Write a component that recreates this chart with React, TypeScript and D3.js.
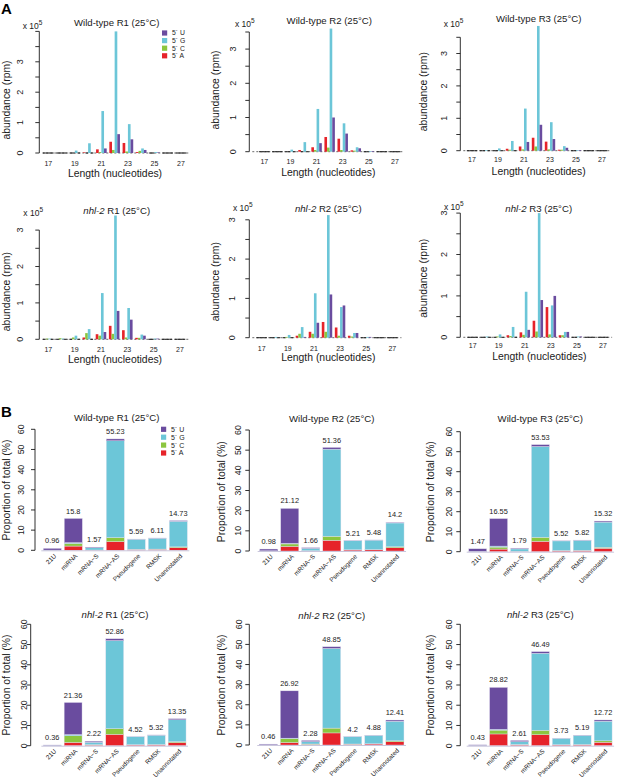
import React from "react";
import * as d3 from "d3";

// ---------- shared categories ----------
const lengths = [17, 18, 19, 20, 21, 22, 23, 24, 25, 26, 27];
const lengthTickLabels = [17, 19, 21, 23, 25, 27];
const nucleotides = ["A", "C", "G", "U"];
const legendLabels = ["5´ U", "5´ G", "5´ C", "5´ A"];
const legendKeys = ["U", "G", "C", "A"];
const categories = ["21U", "miRNA", "mRNA−S", "mRNA−AS", "Pseudogene", "RMSK", "Unannotated"];
const propTicks = [0, 10, 20, 30, 40, 50, 60];

// ---------- panel A: abundance (x 10^5 rpm) per length ----------
const wt1A = [0, 0, 0.01, 0.02, 0.12, 0.37, 0.33, 0.03, 0.01, 0, 0];
const wt1C = [0, 0, 0, 0.01, 0.03, 0.1, 0.05, 0.07, 0, 0, 0];
const wt1G = [0.01, 0.01, 0.08, 0.32, 1.38, 4.0, 0.95, 0.15, 0.03, 0.01, 0.01];
const wt1U = [0, 0, 0, 0.01, 0.15, 0.62, 0.45, 0.1, 0.02, 0, 0];

const wt2A = [0.01, 0.01, 0.01, 0.05, 0.13, 0.43, 0.38, 0.04, 0.01, 0, 0];
const wt2C = [0, 0, 0, 0.01, 0.05, 0.12, 0.05, 0.03, 0, 0, 0];
const wt2G = [0.01, 0.01, 0.06, 0.28, 1.25, 3.6, 0.83, 0.13, 0.02, 0.01, 0.01];
const wt2U = [0, 0, 0, 0.01, 0.25, 1.0, 0.53, 0.1, 0.02, 0, 0];

const wt3A = [0.01, 0.01, 0.01, 0.06, 0.13, 0.4, 0.28, 0.03, 0.01, 0, 0];
const wt3C = [0, 0, 0, 0.03, 0.04, 0.13, 0.04, 0.03, 0, 0, 0];
const wt3G = [0.01, 0.02, 0.07, 0.3, 1.3, 3.85, 0.88, 0.14, 0.02, 0.01, 0.01];
const wt3U = [0, 0, 0, 0.01, 0.27, 0.8, 0.36, 0.09, 0.02, 0, 0];

const nh1A = [0.01, 0.01, 0.01, 0.05, 0.14, 0.37, 0.25, 0.04, 0.01, 0, 0];
const nh1C = [0.02, 0.03, 0.05, 0.17, 0.1, 0.15, 0.05, 0.04, 0, 0, 0];
const nh1G = [0.02, 0.02, 0.1, 0.28, 1.27, 3.4, 0.86, 0.13, 0.02, 0.01, 0.01];
const nh1U = [0, 0, 0, 0.01, 0.2, 0.78, 0.54, 0.1, 0.02, 0, 0];

const nh2A = [0.01, 0.01, 0.01, 0.05, 0.15, 0.4, 0.26, 0.05, 0.01, 0, 0];
const nh2C = [0, 0.01, 0.02, 0.1, 0.1, 0.15, 0.05, 0.03, 0, 0, 0];
const nh2G = [0.01, 0.02, 0.07, 0.27, 1.13, 3.12, 0.78, 0.12, 0.02, 0.01, 0.01];
const nh2U = [0, 0, 0, 0.02, 0.38, 1.1, 0.82, 0.12, 0.02, 0, 0];

const nh3A = [0.01, 0.01, 0.01, 0.05, 0.12, 0.4, 0.73, 0.05, 0.01, 0, 0];
const nh3C = [0, 0, 0.02, 0.03, 0.06, 0.14, 0.07, 0.05, 0, 0, 0];
const nh3G = [0.01, 0.02, 0.07, 0.25, 1.1, 3.0, 0.77, 0.13, 0.02, 0.01, 0.01];
const nh3U = [0, 0, 0, 0.01, 0.18, 0.9, 1.0, 0.13, 0.02, 0, 0];

// ---------- panel B: proportion of total (%) per category ----------
const pWt1Total = ["0.96", "15.8", "1.57", "55.23", "5.59", "6.11", "14.73"];
const pWt1A = [0.02, 2.1, 0.1, 4.3, 0.4, 0.5, 1.3];
const pWt1C = [0.01, 1.3, 0.05, 2.0, 0.1, 0.1, 0.4];
const pWt1G = [0.08, 0.4, 1.12, 48.0, 5.0, 5.4, 12.7];
const pWt1U = [0.85, 12.0, 0.3, 0.93, 0.09, 0.11, 0.33];

const pWt2Total = ["0.98", "21.12", "1.66", "51.36", "5.21", "5.48", "14.2"];
const pWt2A = [0.02, 2.3, 0.1, 5.3, 0.5, 0.6, 1.6];
const pWt2C = [0.01, 1.2, 0.05, 2.0, 0.1, 0.1, 0.5];
const pWt2G = [0.07, 0.3, 1.16, 43.2, 4.5, 4.7, 11.8];
const pWt2U = [0.88, 17.32, 0.35, 0.86, 0.11, 0.08, 0.3];

const pWt3Total = ["1.47", "16.55", "1.79", "53.53", "5.52", "5.82", "15.32"];
const pWt3A = [0.03, 1.3, 0.1, 5.2, 0.5, 0.6, 1.7];
const pWt3C = [0.02, 1.0, 0.05, 2.0, 0.1, 0.1, 0.5];
const pWt3G = [0.1, 0.5, 1.24, 45.4, 4.8, 5.0, 12.6];
const pWt3U = [1.32, 13.75, 0.4, 0.93, 0.12, 0.12, 0.52];

const pNh1Total = ["0.36", "21.36", "2.22", "52.86", "4.52", "5.32", "13.35"];
const pNh1A = [0.02, 1.6, 0.3, 5.6, 0.4, 0.5, 1.5];
const pNh1C = [0.01, 3.3, 0.2, 2.8, 0.1, 0.1, 0.5];
const pNh1G = [0.13, 0.6, 1.2, 43.56, 3.95, 4.6, 10.8];
const pNh1U = [0.2, 15.86, 0.52, 0.9, 0.07, 0.12, 0.55];

const pNh2Total = ["0.46", "26.92", "2.28", "48.85", "4.2", "4.88", "12.41"];
const pNh2A = [0.02, 1.2, 0.3, 6.0, 0.4, 0.5, 1.6];
const pNh2C = [0.01, 2.0, 0.2, 2.4, 0.1, 0.1, 0.5];
const pNh2G = [0.13, 0.2, 1.2, 39.6, 3.62, 4.18, 9.71];
const pNh2U = [0.3, 23.52, 0.58, 0.85, 0.08, 0.1, 0.6];

const pNh3Total = ["0.43", "28.82", "2.61", "46.49", "3.73", "5.19", "12.72"];
const pNh3A = [0.02, 5.8, 0.4, 5.4, 0.4, 0.5, 1.7];
const pNh3C = [0.01, 1.9, 0.2, 2.2, 0.1, 0.1, 0.7];
const pNh3G = [0.12, 0.4, 1.4, 38.09, 3.15, 4.45, 9.72];
const pNh3U = [0.28, 20.72, 0.61, 0.8, 0.08, 0.14, 0.6];

// ---------- styles ----------
const colors: Record<string, string> = {
  U: "#6a4c9f",
  G: "#6cc6d8",
  C: "#8cc63f",
  A: "#e6232a",
};
const FONT = "'Liberation Sans', Arial, Helvetica, sans-serif";
const INK = "#1a1a1a";

type Title = { italic: string; rest: string };

function TitleText({ x, y, t }: { x: number; y: number; t: Title }) {
  return (
    <text x={x} y={y} dy="0.35em" textAnchor="middle" fontSize={9.6} fill={INK}>
      {t.italic ? <tspan fontStyle="italic">{t.italic}</tspan> : null}
      {t.rest}
    </text>
  );
}

function Legend({ x, y, step, fs }: { x: number; y: number; step: number; fs: number }) {
  return (
    <g>
      {legendKeys.map((k, i) => (
        <g key={k}>
          <rect x={x} y={y + i * step - 2.6} width={5.2} height={5.2} fill={colors[k]} />
          <text x={x + 10} y={y + i * step} dy="0.35em" fontSize={fs} fill={INK}>
            {legendLabels[i]}
          </text>
        </g>
      ))}
    </g>
  );
}

type LenCfg = {
  axisX: number; tickLblX: number; base: number; ppu: number; yMax: number;
  x17: number; x27: number; tickLblY: number; xTitleX: number; xTitleY: number;
  yTitleX: number; yTitleY: number; titleX: number; titleY: number;
  x10X: number; x10Y: number; legend?: boolean;
};

function LengthPanel({ cfg, series, title }: { cfg: LenCfg; series: Record<string, number[]>; title: Title }) {
  const x = d3.scaleLinear().domain([17, 27]).range([cfg.x17, cfg.x27]);
  const u = (cfg.x27 - cfg.x17) / 10;
  const inner = d3.scaleBand().domain(nucleotides).range([-0.4 * u, 0.4 * u]);
  const y = d3.scaleLinear().domain([0, cfg.yMax]).range([cfg.base, cfg.base - cfg.yMax * cfg.ppu]);
  const ticks = d3.range(0, cfg.yMax + 1e-9, 0.5);
  const labelTicks = ticks.filter((t) => Number.isInteger(t) && t <= 3);
  const bw = inner.bandwidth();
  return (
    <g fontFamily={FONT}>
      <TitleText x={cfg.titleX} y={cfg.titleY} t={title} />
      {/* y axis */}
      <line x1={cfg.axisX} x2={cfg.axisX} y1={y(0)} y2={y(cfg.yMax)} stroke={INK} strokeWidth={0.9} />
      {ticks.map((t) => (
        <line key={t} x1={cfg.axisX - 4} x2={cfg.axisX} y1={y(t)} y2={y(t)} stroke={INK} strokeWidth={0.9} />
      ))}
      {labelTicks.map((t) => (
        <text key={t} transform={`translate(${cfg.tickLblX},${y(t)}) rotate(-90)`} dy="0.35em" textAnchor="middle" fontSize={9} fill={INK}>
          {t}
        </text>
      ))}
      <text x={cfg.x10X} y={cfg.x10Y} dy="0.35em" fontSize={8.5} fill={INK}>
        x 10<tspan dy="-4" fontSize={6.5}>5</tspan>
      </text>
      <text transform={`translate(${cfg.yTitleX},${cfg.yTitleY}) rotate(-90)`} dy="0.35em" textAnchor="middle" fontSize={10.4} fill={INK}>
        abundance (rpm)
      </text>
      {/* baseline */}
      <line x1={cfg.axisX + 3} x2={x(27) + 0.7 * u} y1={cfg.base} y2={cfg.base} stroke="#444" strokeWidth={0.8} strokeDasharray="2,2" />
      {/* bars */}
      {lengths.map((L, i) =>
        nucleotides.map((n) => {
          const v = series[n][i];
          const bx = x(L) + (inner(n) as number);
          if (v < 0.015) {
            return <line key={`${L}${n}`} x1={bx} x2={bx + bw} y1={cfg.base} y2={cfg.base} stroke="#222" strokeWidth={1.1} />;
          }
          return <rect key={`${L}${n}`} x={bx} y={y(v)} width={bw} height={cfg.base - y(v)} fill={colors[n]} />;
        })
      )}
      {lengthTickLabels.map((L) => (
        <text key={L} x={x(L)} y={cfg.tickLblY} dy="0.35em" textAnchor="middle" fontSize={7} fill={INK}>
          {L}
        </text>
      ))}
      <text x={cfg.xTitleX} y={cfg.xTitleY} dy="0.35em" textAnchor="middle" fontSize={10.4} fill={INK}>
        Length (nucleotides)
      </text>
      {cfg.legend ? <Legend x={cfg.x27 - 19} y={cfg.base - 120} step={7.6} fs={6.8} /> : null}
    </g>
  );
}

type PropCfg = {
  axisX: number; tickLblX: number; base: number; top: number; c0: number; step: number;
  titleX: number; titleY: number; yTitleX: number; yTitleY: number; legend?: boolean;
};

function PropPanel({ cfg, series, totals, title }: { cfg: PropCfg; series: Record<string, number[]>; totals: string[]; title: Title }) {
  const y = d3.scaleLinear().domain([0, 60]).range([cfg.base, cfg.top]);
  const x = d3
    .scaleBand()
    .domain(categories)
    .range([cfg.c0 - cfg.step / 2, cfg.c0 + cfg.step * 6.5])
    .paddingInner(0.14)
    .paddingOuter(0.07);
  const rows = categories.map((c, i) => {
    const r: Record<string, number | string> = { cat: c };
    nucleotides.forEach((n) => (r[n] = series[n][i]));
    return r;
  });
  const stack = d3.stack<any>().keys(nucleotides)(rows);
  const bw = x.bandwidth();
  return (
    <g fontFamily={FONT}>
      <TitleText x={cfg.titleX} y={cfg.titleY} t={title} />
      <line x1={cfg.axisX} x2={cfg.axisX} y1={y(0)} y2={y(60)} stroke={INK} strokeWidth={0.9} />
      {propTicks.map((t) => (
        <g key={t}>
          <line x1={cfg.axisX - 4} x2={cfg.axisX} y1={y(t)} y2={y(t)} stroke={INK} strokeWidth={0.9} />
          <text transform={`translate(${cfg.tickLblX},${y(t)}) rotate(-90)`} dy="0.35em" textAnchor="middle" fontSize={8.8} fill={INK}>
            {t}
          </text>
        </g>
      ))}
      <text transform={`translate(${cfg.yTitleX},${cfg.yTitleY}) rotate(-90)`} dy="0.35em" textAnchor="middle" fontSize={10.4} fill={INK}>
        Proportion of total (%)
      </text>
      {stack.map((layer) =>
        layer.map((d, i) => {
          const c = categories[i];
          const h = y(d[0]) - y(d[1]);
          return (
            <rect key={`${layer.key}${c}`} x={x(c)} y={y(d[1])} width={bw} height={Math.max(h, 0)} fill={colors[layer.key]} stroke="#e4e2ef" strokeWidth={0.4} />
          );
        })
      )}
      <line x1={(x(categories[0]) as number) - 2} x2={(x(categories[6]) as number) + bw + 2} y1={cfg.base + 0.5} y2={cfg.base + 0.5} stroke="#c9c6dc" strokeWidth={1} />
      {categories.map((c, i) => {
        const top = d3.sum(nucleotides, (n) => series[n][i]);
        const cx = (x(c) as number) + bw / 2;
        return (
          <g key={c}>
            <text x={cx} y={y(top) - 7.5} dy="0.35em" textAnchor="middle" fontSize={7.4} fill={INK}>
              {totals[i]}
            </text>
            <text transform={`translate(${cx + 3},${cfg.base + 4.5}) rotate(-45)`} dy="0.35em" textAnchor="end" fontSize={6.4} fill={INK}>
              {c}
            </text>
          </g>
        );
      })}
      {cfg.legend ? <Legend x={161} y={cfg.top} step={7.9} fs={7} /> : null}
    </g>
  );
}

const ser = (A: number[], C: number[], G: number[], U: number[]) => ({ A, C, G, U });

const wtT = (r: string): Title => ({ italic: "", rest: `Wild-type ${r} (25°C)` });
const nhT = (r: string): Title => ({ italic: "nhl-2", rest: ` ${r} (25°C)` });

export default function App() {
  return (
    <svg
      width={617}
      height={779}
      viewBox="0 0 617 779"
      style={{ position: "absolute", left: 0, top: 0, background: "#fff" }}
    >
      <rect width={617} height={779} fill="#fff" />
      <text x={1} y={9} dy="0.35em" fontFamily={FONT} fontWeight="bold" fontSize={15} fill="#000">A</text>
      <text x={1} y={412} dy="0.35em" fontFamily={FONT} fontWeight="bold" fontSize={15} fill="#000">B</text>

      <LengthPanel
        title={wtT("R1")}
        series={ser(wt1A, wt1C, wt1G, wt1U)}
        cfg={{ axisX: 39.3, tickLblX: 20, base: 153, ppu: 30.4, yMax: 4, x17: 48.3, x27: 181, tickLblY: 163.3, xTitleX: 115, xTitleY: 173.3, yTitleX: 6.7, yTitleY: 100, titleX: 116.7, titleY: 22.7, x10X: 22.7, x10Y: 26, legend: true }}
      />
      <LengthPanel
        title={wtT("R2")}
        series={ser(wt2A, wt2C, wt2G, wt2U)}
        cfg={{ axisX: 249.3, tickLblX: 233.3, base: 151.7, ppu: 34.2, yMax: 3.5, x17: 264.3, x27: 395, tickLblY: 161.7, xTitleX: 328.3, xTitleY: 172.7, yTitleX: 215, yTitleY: 90, titleX: 329.3, titleY: 20.7, x10X: 235, x10Y: 24 }}
      />
      <LengthPanel
        title={wtT("R3")}
        series={ser(wt3A, wt3C, wt3G, wt3U)}
        cfg={{ axisX: 460.3, tickLblX: 443.7, base: 150.7, ppu: 32.4, yMax: 3.5, x17: 472, x27: 602, tickLblY: 159.5, xTitleX: 538.7, xTitleY: 171, yTitleX: 423.7, yTitleY: 91.7, titleX: 538.7, titleY: 18.3, x10X: 443.7, x10Y: 24 }}
      />
      <LengthPanel
        title={nhT("R1")}
        series={ser(nh1A, nh1C, nh1G, nh1U)}
        cfg={{ axisX: 39.3, tickLblX: 20, base: 339.3, ppu: 36.4, yMax: 3, x17: 48.3, x27: 180, tickLblY: 350, xTitleX: 115, xTitleY: 359, yTitleX: 6.7, yTitleY: 291.7, titleX: 116.7, titleY: 211, x10X: 23.3, x10Y: 213.3 }}
      />
      <LengthPanel
        title={nhT("R2")}
        series={ser(nh2A, nh2C, nh2G, nh2U)}
        cfg={{ axisX: 249.3, tickLblX: 231.7, base: 337.7, ppu: 39.3, yMax: 3, x17: 261.7, x27: 392.3, tickLblY: 348.3, xTitleX: 328.3, xTitleY: 357.3, yTitleX: 215, yTitleY: 281.7, titleX: 328.3, titleY: 209, x10X: 233, x10Y: 208.3 }}
      />
      <LengthPanel
        title={nhT("R3")}
        series={ser(nh3A, nh3C, nh3G, nh3U)}
        cfg={{ axisX: 460.3, tickLblX: 443.7, base: 337.3, ppu: 41.4, yMax: 3, x17: 472.7, x27: 603, tickLblY: 346, xTitleX: 539.3, xTitleY: 356.7, yTitleX: 423.7, yTitleY: 278.3, titleX: 538.7, titleY: 209, x10X: 444, x10Y: 206.7 }}
      />

      <PropPanel
        title={wtT("R1")}
        series={ser(pWt1A, pWt1C, pWt1G, pWt1U)}
        totals={pWt1Total}
        cfg={{ axisX: 35, tickLblX: 20.7, base: 550.3, top: 429.3, c0: 52.3, step: 21, titleX: 116.7, titleY: 417.7, yTitleX: 6.7, yTitleY: 490, legend: true }}
      />
      <PropPanel
        title={wtT("R2")}
        series={ser(pWt2A, pWt2C, pWt2G, pWt2U)}
        totals={pWt2Total}
        cfg={{ axisX: 249.3, tickLblX: 238.3, base: 551, top: 430, c0: 268.7, step: 21.05, titleX: 331.7, titleY: 418.3, yTitleX: 221.7, yTitleY: 491.7 }}
      />
      <PropPanel
        title={wtT("R3")}
        series={ser(pWt3A, pWt3C, pWt3G, pWt3U)}
        totals={pWt3Total}
        cfg={{ axisX: 460.3, tickLblX: 448.7, base: 551.7, top: 431.7, c0: 477.7, step: 20.9, titleX: 540.3, titleY: 418.3, yTitleX: 430.3, yTitleY: 491.7 }}
      />
      <PropPanel
        title={nhT("R1")}
        series={ser(pNh1A, pNh1C, pNh1G, pNh1U)}
        totals={pNh1Total}
        cfg={{ axisX: 30.7, tickLblX: 24, base: 745.7, top: 624.3, c0: 52.3, step: 20.8, titleX: 115, titleY: 615, yTitleX: 6.7, yTitleY: 685 }}
      />
      <PropPanel
        title={nhT("R2")}
        series={ser(pNh2A, pNh2C, pNh2G, pNh2U)}
        totals={pNh2Total}
        cfg={{ axisX: 249.3, tickLblX: 239.3, base: 745, top: 624.3, c0: 268.3, step: 21.1, titleX: 331.7, titleY: 616, yTitleX: 221.7, yTitleY: 685 }}
      />
      <PropPanel
        title={nhT("R3")}
        series={ser(pNh3A, pNh3C, pNh3G, pNh3U)}
        totals={pNh3Total}
        cfg={{ axisX: 460.3, tickLblX: 448.7, base: 745.7, top: 624.3, c0: 477.7, step: 20.9, titleX: 540.3, titleY: 615, yTitleX: 430.3, yTitleY: 685 }}
      />
    </svg>
  );
}
